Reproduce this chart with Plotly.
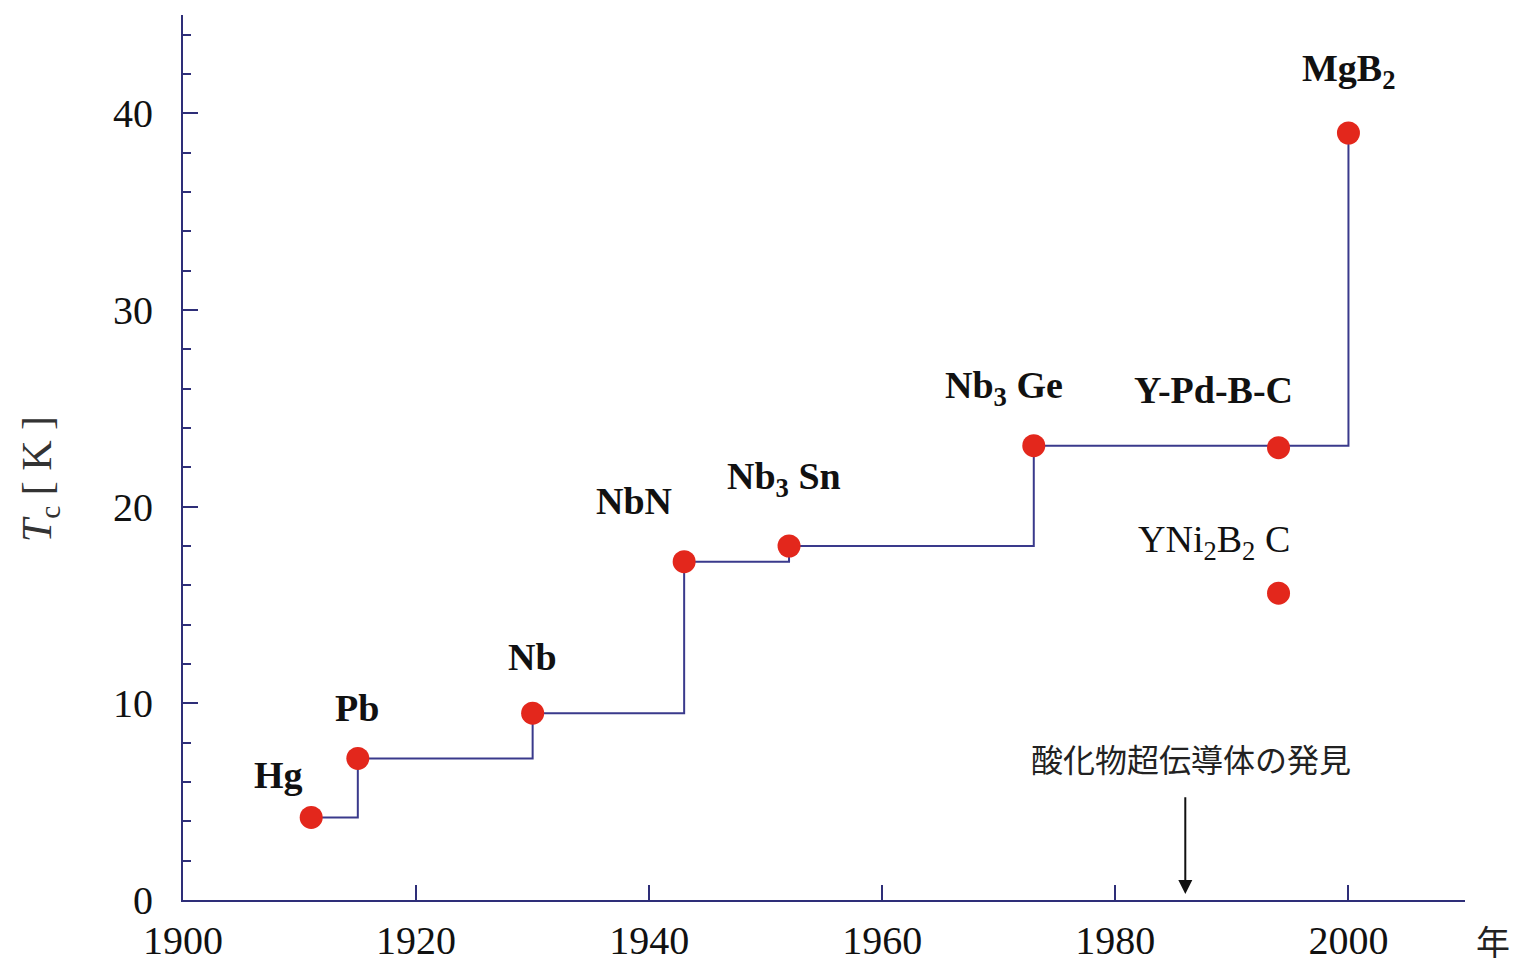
import plotly.graph_objects as go

# Record-holding superconductors (step line)
step_names = ["Hg", "Pb", "Nb", "NbN", "Nb<sub>3</sub> Sn", "Nb<sub>3</sub> Ge", "MgB<sub>2</sub>"]
step_years = [1911, 1915, 1930, 1943, 1952, 1973, 2000]
step_tc = [4.2, 7.2, 9.5, 17.2, 18.0, 23.1, 39.0]

# Other compounds (markers only)
other_names = ["Y-Pd-B-C", "YNi<sub>2</sub>B<sub>2</sub> C"]
other_years = [1994, 1994]
other_tc = [23.0, 15.6]

# label offsets in pixels (dx, dy) relative to each point
step_offsets = [(-33, 42), (-1, 50), (0, 56), (-50, 61), (-5, 67), (-30, 58), (1, 62)]
other_offsets = [(-65, 58), (-65, 51)]

# oxide superconductor discovery arrow
arrow_year = 1986
arrow_top = 5.3
arrow_bottom = 0.3
arrow_text = "酸化物超伝導体の発見"

x_ticks = [1900, 1920, 1940, 1960, 1980, 2000]
y_ticks = [0, 10, 20, 30, 40]

AXIS = "#2e2e78"
LINE = "#3a3a8c"
RED = "#e3271c"
SERIF = "Liberation Serif, Times New Roman, serif"

fig = go.Figure()
fig.add_trace(go.Scatter(x=step_years, y=step_tc, mode="lines",
                         line=dict(shape="hv", color=LINE, width=2),
                         hoverinfo="skip", showlegend=False))
fig.add_trace(go.Scatter(x=step_years + other_years, y=step_tc + other_tc, mode="markers",
                         marker=dict(color=RED, size=23, line=dict(width=0)),
                         showlegend=False))

for name, xv, yv, (dx, dy) in zip(step_names + other_names, step_years + other_years,
                                   step_tc + other_tc, step_offsets + other_offsets):
    bold = not name.startswith("YNi")
    fig.add_annotation(x=xv, y=yv, text=f"<b>{name}</b>" if bold else name,
                       showarrow=False, xshift=dx, yshift=dy,
                       font=dict(family=SERIF, size=38, color="#111"))

fig.add_annotation(x=arrow_year, y=arrow_bottom, ax=arrow_year, ay=arrow_top,
                   xref="x", yref="y", axref="x", ayref="y", text="",
                   showarrow=True, arrowhead=2, arrowsize=1.4, arrowwidth=2,
                   arrowcolor="#111")
fig.add_annotation(x=arrow_year, y=arrow_top, text=arrow_text, showarrow=False,
                   yshift=38, xshift=6,
                   font=dict(family="Noto Sans CJK JP", size=32, color="#222"))

fig.add_annotation(xref="paper", yref="paper", x=1.0, y=0, text="年", showarrow=False,
                   xshift=28, yshift=-40, xanchor="center", yanchor="middle",
                   font=dict(family="Noto Sans CJK JP", size=34, color="#222"))

fig.add_annotation(xref="paper", yref="y", x=0, y=21.4, xshift=-143,
                   text="<i>T</i><sub>c</sub> [ K ]", textangle=-90, showarrow=False,
                   xanchor="center", yanchor="middle",
                   font=dict(family=SERIF, size=42, color="#333"))

fig.update_xaxes(range=[1900, 2010], tickvals=x_ticks, ticks="inside", ticklen=15,
                 tickwidth=2, tickcolor=AXIS, showline=True, linecolor=AXIS, linewidth=2,
                 showgrid=False, zeroline=False, ticklabelstandoff=4,
                 tickfont=dict(family=SERIF, size=40, color="#111"))
fig.update_yaxes(range=[0, 45], tickvals=y_ticks, ticks="inside", ticklen=15,
                 tickwidth=2, tickcolor=AXIS, showline=True, linecolor=AXIS, linewidth=2,
                 showgrid=False, zeroline=False, ticklabelstandoff=20,
                 minor=dict(dtick=2, ticks="inside", ticklen=8, tickwidth=2, tickcolor=AXIS),
                 tickfont=dict(family=SERIF, size=40, color="#111"))

fig.update_layout(width=1520, height=966,
                  margin=dict(l=183, r=55, t=15, b=66, autoexpand=False),
                  plot_bgcolor="white", paper_bgcolor="white")

# remove the default 8px page margin so the figure fills the window exactly
fig.write_html("out.html", config={"displayModeBar": False},
               post_script="document.body.style.margin='0';document.body.style.overflow='hidden';")
